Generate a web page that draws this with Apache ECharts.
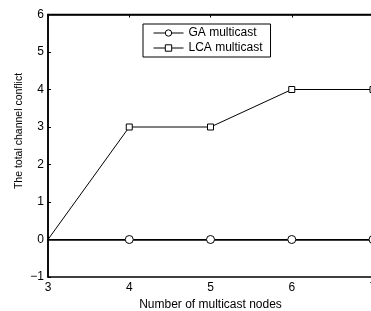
<!DOCTYPE html>
<html>
<head>
<meta charset="utf-8">
<script src="https://cdn.jsdelivr.net/npm/echarts@6/dist/echarts.min.js"></script>
<style>
  html, body { margin: 0; padding: 0; background: #fff; }
  #chart { width: 371px; height: 311px; }
</style>
</head>
<body>
<div id="chart"></div>
<script>
const nodes = [3, 4, 5, 6, 7];
const gaValues = [0, 0, 0, 0, 0];
const lcaValues = [0, 3, 3, 4, 4];
const seriesNames = ['GA multicast', 'LCA multicast'];
const xTitle = 'Number of multicast nodes';
const yTitle = 'The total channel conflict';

const chart = echarts.init(document.getElementById('chart'), null, { renderer: 'canvas' });

const FONT = 'Liberation Sans, Arial, sans-serif';
const minus = v => String(v).replace('-', '\u2212');
// first point sits on the y axis without a marker
const hideFirst = size => (val, params) => params.dataIndex === 0 ? 0 : size;
const markStyle = { color: '#fff', borderColor: '#000', borderWidth: 1 };

const option = {
  backgroundColor: '#fff',
  animation: false,
  grid: {
    left: 48, top: 14.5, right: -2, bottom: 34,
    outerBoundsMode: 'none', containLabel: false,
    show: true, borderColor: '#000', borderWidth: 1.5, backgroundColor: 'transparent'
  },
  // y title sits a bit above the axis middle, as in the original figure
  graphic: [{
    type: 'text', x: 19, y: 131, rotation: Math.PI / 2,
    style: { text: yTitle, font: '10.5px ' + FONT, fill: '#000', align: 'center', verticalAlign: 'middle' }
  }],
  legend: {
    left: 143, top: 24, orient: 'vertical',
    padding: [3, 8, 3, 10], itemGap: 3,
    borderColor: '#000', borderWidth: 1, backgroundColor: '#fff',
    itemWidth: 30, itemHeight: 8,
    itemStyle: { color: '#fff', borderColor: '#000', borderWidth: 1 },
    lineStyle: { width: 1, color: '#000' },
    textStyle: { fontFamily: FONT, fontSize: 12, color: '#000' },
    data: seriesNames
  },
  xAxis: [{
    type: 'value', min: 3, max: 7, interval: 1,
    name: xTitle, nameLocation: 'middle', nameGap: 21,
    nameTextStyle: { fontFamily: FONT, fontSize: 12, color: '#000' },
    axisLine: { show: true, lineStyle: { color: '#000', width: 1.5 } },
    axisTick: { inside: true, length: 3, lineStyle: { color: '#000' } },
    axisLabel: { fontFamily: FONT, fontSize: 12, color: '#000', margin: 5 },
    splitLine: { show: false }
  }, {
    type: 'value', min: 3, max: 7, interval: 1, position: 'top',
    axisLine: { show: true, lineStyle: { color: '#000', width: 1.5 } },
    axisTick: { inside: true, length: 3, lineStyle: { color: '#000' } },
    axisLabel: { show: false },
    splitLine: { show: false }
  }],
  yAxis: {
    type: 'value', min: -1, max: 6, interval: 1,
    axisLine: { show: true, lineStyle: { color: '#000', width: 1.5 } },
    axisTick: { inside: true, length: 3, lineStyle: { color: '#000' } },
    axisLabel: { fontFamily: FONT, fontSize: 12, color: '#000', margin: 4, formatter: minus },
    splitLine: { show: false }
  },
  series: [{
    name: seriesNames[0], type: 'line',
    data: nodes.map((x, i) => [x, gaValues[i]]),
    symbol: 'circle', symbolSize: hideFirst(8),
    lineStyle: { color: '#000', width: 1 },
    itemStyle: markStyle
  }, {
    name: seriesNames[1], type: 'line',
    data: nodes.map((x, i) => [x, lcaValues[i]]),
    symbol: 'rect', symbolSize: hideFirst(6),
    lineStyle: { color: '#000', width: 1 },
    itemStyle: markStyle
  }]
};

chart.setOption(option);
</script>
</body>
</html>
